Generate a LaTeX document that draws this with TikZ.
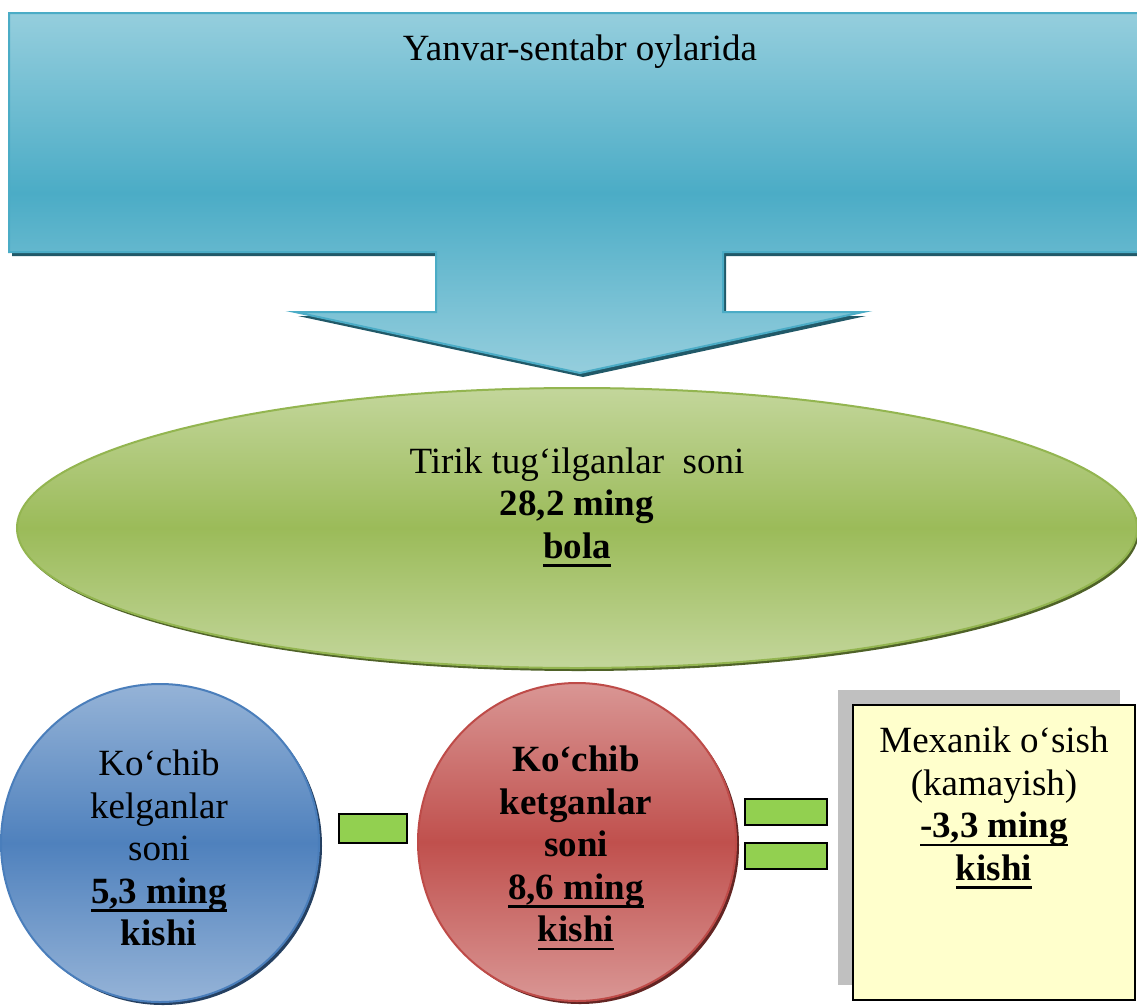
\documentclass[tikz,border=0pt]{standalone}
\usepackage{fontspec}
\setmainfont{Liberation Serif}
\usetikzlibrary{shapes.geometric,shadows}
\definecolor{calloutlight}{HTML}{95CEDD}
\definecolor{calloutdark}{HTML}{4BACC6}
\definecolor{calloutedge}{HTML}{4BACC6}
\definecolor{calloutshadow}{HTML}{215968}
\definecolor{greenlight}{HTML}{C3D69B}
\definecolor{greenmid}{HTML}{9BBB59}
\definecolor{greenedge}{HTML}{93B550}
\definecolor{greenshadow}{HTML}{4F6228}
\definecolor{bluelight}{HTML}{95B3D7}
\definecolor{bluemid}{HTML}{4F81BD}
\definecolor{blueedge}{HTML}{4A7EBB}
\definecolor{blueshadow}{HTML}{254061}
\definecolor{redlight}{HTML}{D99694}
\definecolor{redmid}{HTML}{C0504D}
\definecolor{rededge}{HTML}{BE4B48}
\definecolor{redshadow}{HTML}{632523}
\definecolor{signgreen}{HTML}{92D050}
\definecolor{noteyellow}{HTML}{FFFFCC}
\definecolor{notegray}{HTML}{C0C0C0}
\newcommand\undl[1]{\setbox0\hbox{#1}\leavevmode\rlap{\rule[-8.5pt]{\wd0}{2.5pt}}\box0}
\tikzset{
  big/.style={font=\fontsize{37}{42.5}\selectfont, align=center, text=black, inner sep=0pt},
  signbox/.style={draw=black, line width=1.5pt, fill=signgreen, inner sep=0pt},
  bubble/.style={circle, minimum size=318pt, inner sep=0pt, line width=2pt},
}
\begin{document}
\begin{tikzpicture}[x=1pt,y=-1pt]
\useasboundingbox (0,0) rectangle (1137,1007);
\fill[white] (0,0) rectangle (1137,1007);

% top callout arrow
\fill[calloutshadow, shift={(3,4)}] (9,13) -- (1145,13) -- (1145,252) -- (723,252) -- (723,312) -- (863,312) -- (580,373) -- (295,312) -- (436,312) -- (436,252) -- (9,252) -- cycle;
\path[top color=calloutlight, bottom color=calloutlight, middle color=calloutdark, draw=calloutedge, line width=2pt]
  (9,13) -- (1145,13) -- (1145,252) -- (723,252) -- (723,312) -- (863,312) -- (580,373) -- (295,312) -- (436,312) -- (436,252) -- (9,252) -- cycle;
\node[big, anchor=base] (title) at (580,60) {Yanvar-sentabr oylarida};

% ellipse
\node[ellipse, minimum width=1120pt, minimum height=280pt, inner sep=0pt,
      top color=greenlight, bottom color=greenlight, middle color=greenmid,
      draw=greenedge, line width=2pt,
      general shadow={fill=greenshadow, shadow xshift=2pt, shadow yshift=-3pt}] (birth) at (577,528) {};
\node[big] (birthtxt) at (577,507) {Tirik tug‘ilganlar\ \ soni\\\textbf{28,2 ming}\\\textbf{\undl{bola}}};

% circles
\node[bubble, top color=bluelight, bottom color=bluelight, middle color=bluemid, draw=blueedge,
      general shadow={fill=blueshadow, shadow xshift=3pt, shadow yshift=-3pt}] (kel) at (160,843) {};
\node[big] (keltxt) at (159,848) {Ko‘chib\\kelganlar\\soni\\\textbf{\undl{5,3 ming}}\\\textbf{kishi}};

\node[bubble, top color=redlight, bottom color=redlight, middle color=redmid, draw=rededge,
      general shadow={fill=redshadow, shadow xshift=3pt, shadow yshift=-3pt}] (ket) at (577,842) {};
\node[big, font=\fontsize{37}{42.5}\selectfont\bfseries] (kettxt) at (576,848) {Ko‘chib\\ketganlar\\soni\\\undl{8,6 ming}\\\undl{kishi}};

% signs
\node[signbox, minimum width=68pt, minimum height=29pt] (minus) at (373,828.5) {};
\node[signbox, minimum width=82pt, minimum height=26pt] (eqtop) at (786,812) {};
\node[signbox, minimum width=82pt, minimum height=26pt] (eqbot) at (786,856) {};

% result box
\node[rectangle, minimum width=282pt, minimum height=295pt, inner sep=0pt, fill=noteyellow, draw=black, line width=1.5pt,
      general shadow={fill=notegray, draw=none, shadow xshift=-15pt, shadow yshift=15pt}] (result) at (994,852.5) {};
\node[big] (resulttxt) at (994,808) {Mexanik o‘sish\\(kamayish)\\\textbf{\undl{-3,3 ming}}\\\textbf{\undl{kishi}}};
\end{tikzpicture}
\end{document}
